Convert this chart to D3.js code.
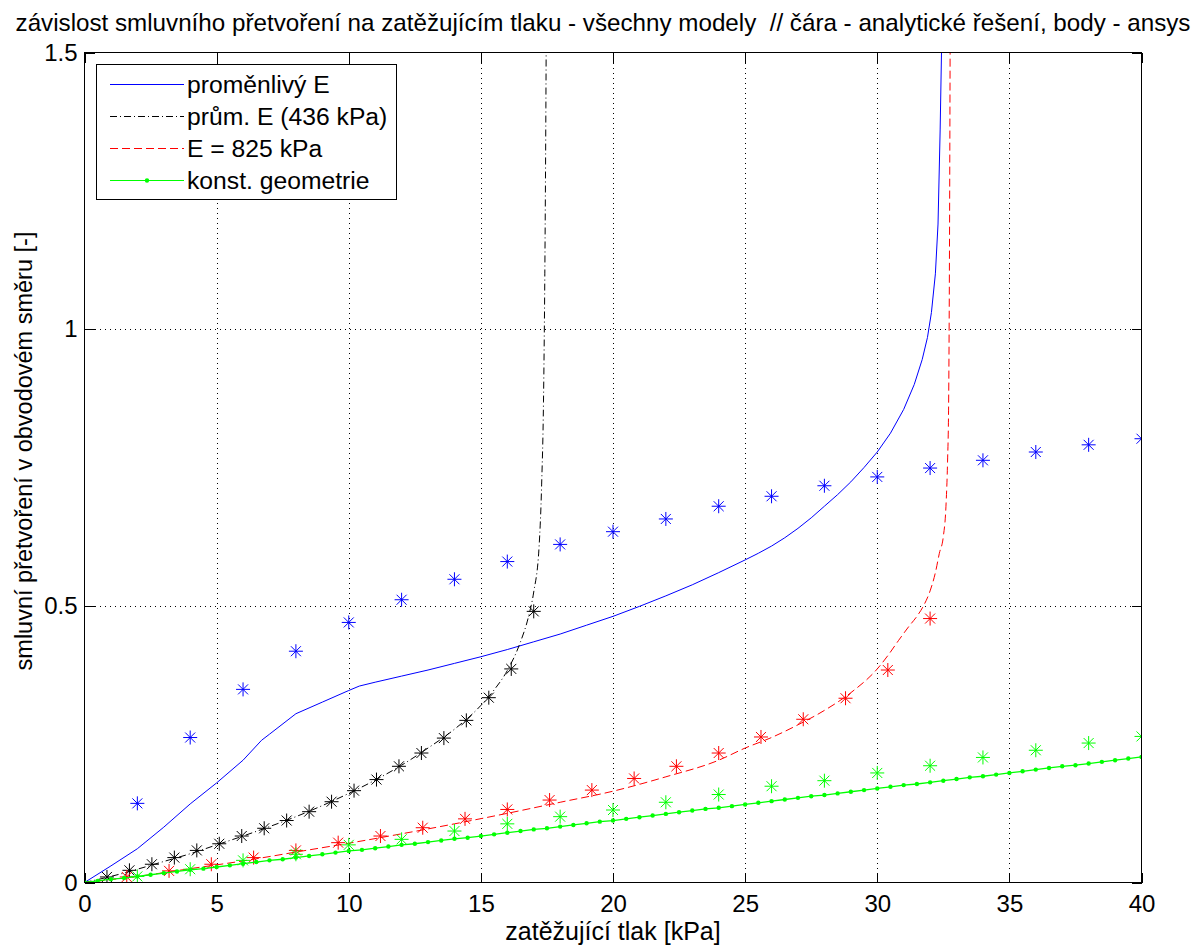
<!DOCTYPE html>
<html>
<head>
<meta charset="utf-8">
<script src="https://cdn.jsdelivr.net/npm/d3@7"></script>
<style>
  html, body { margin: 0; padding: 0; background: #fff; }
  svg { display: block; font-family: "Liberation Sans", Arial, Helvetica, sans-serif; }
  text { white-space: pre; }
</style>
</head>
<body>
<svg id="chart" width="1204" height="946"></svg>
<script>
// ---------------- data ----------------
const titleText = "závislost smluvního přetvoření na zatěžujícím tlaku - všechny modely  // čára - analytické řešení, body - ansys";
const xLabelText = "zatěžující tlak [kPa]";
const yLabelText = "smluvní přetvoření v obvodovém směru [-]";
const xTicks = [0, 5, 10, 15, 20, 25, 30, 35, 40];
const yTicks = [0, 0.5, 1, 1.5];
const legendLabels = ["proměnlivý E", "prům. E (436 kPa)", "E = 825 kPa", "konst. geometrie"];

// analytic lines
const blueLineX = [0, 1, 2, 3, 4, 5, 6, 6.7, 7, 8, 9, 10, 10.4, 11, 12, 13, 14, 15, 16, 17, 18, 19, 20, 21, 22, 23, 24, 25, 25.5, 26, 26.5, 27, 27.5, 28, 28.5, 29, 29.5, 30, 30.5, 31, 31.4, 31.7, 31.9, 32.05, 32.2, 32.3, 32.38, 32.45];
const blueLineY = [0, 0.030, 0.061, 0.100, 0.142, 0.180, 0.221, 0.257, 0.268, 0.305, 0.326, 0.347, 0.355, 0.362, 0.373, 0.384, 0.396, 0.408, 0.421, 0.435, 0.449, 0.465, 0.481, 0.499, 0.518, 0.538, 0.560, 0.583, 0.595, 0.608, 0.623, 0.640, 0.659, 0.680, 0.701, 0.724, 0.750, 0.778, 0.812, 0.855, 0.900, 0.945, 0.985, 1.03, 1.10, 1.19, 1.36, 1.55];

const blackLineX = [0, 1, 2, 3, 4, 5, 6, 7, 8, 9, 10, 11, 12, 13, 14, 15, 15.5, 16, 16.5, 16.8, 17.0, 17.2, 17.3, 17.37, 17.42, 17.46, 17.48];
const blackLineY = [0, 0.011, 0.024, 0.038, 0.052, 0.068, 0.084, 0.101, 0.119, 0.139, 0.161, 0.185, 0.212, 0.243, 0.277, 0.320, 0.348, 0.383, 0.435, 0.480, 0.525, 0.605, 0.72, 0.87, 1.10, 1.40, 1.6];

const redLineX = [0, 2, 4, 6, 8, 10, 12, 14, 16, 18, 20, 22, 24, 25, 26, 27, 28, 29, 30, 30.4, 30.8, 31.2, 31.5, 31.75, 32.0, 32.2, 32.35, 32.5, 32.6, 32.66, 32.7, 32.73, 32.76];
const redLineY = [0, 0.011, 0.025, 0.039, 0.055, 0.071, 0.088, 0.106, 0.125, 0.145, 0.165, 0.191, 0.221, 0.243, 0.262, 0.285, 0.311, 0.343, 0.386, 0.410, 0.437, 0.463, 0.481, 0.500, 0.527, 0.560, 0.595, 0.625, 0.680, 0.760, 0.860, 1.10, 1.55];

const greenLineX = [0, 0.5, 1, 1.5, 2, 2.5, 3, 3.5, 4, 4.5, 5, 5.5, 6, 6.5, 7, 7.5, 8, 8.5, 9, 9.5, 10, 10.5, 11, 11.5, 12, 12.5, 13, 13.5, 14, 14.5, 15, 15.5, 16, 16.5, 17, 17.5, 18, 18.5, 19, 19.5, 20, 20.5, 21, 21.5, 22, 22.5, 23, 23.5, 24, 24.5, 25, 25.5, 26, 26.5, 27, 27.5, 28, 28.5, 29, 29.5, 30, 30.5, 31, 31.5, 32, 32.5, 33, 33.5, 34, 34.5, 35, 35.5, 36, 36.5, 37, 37.5, 38, 38.5, 39, 39.5, 40];
const greenLineY = [0.000, 0.003, 0.006, 0.008, 0.011, 0.014, 0.017, 0.020, 0.023, 0.025, 0.028, 0.031, 0.034, 0.037, 0.040, 0.042, 0.045, 0.048, 0.051, 0.054, 0.057, 0.059, 0.062, 0.065, 0.068, 0.070, 0.073, 0.076, 0.079, 0.081, 0.084, 0.087, 0.090, 0.093, 0.096, 0.098, 0.101, 0.104, 0.107, 0.110, 0.112, 0.115, 0.118, 0.121, 0.124, 0.127, 0.130, 0.133, 0.135, 0.138, 0.141, 0.144, 0.147, 0.150, 0.153, 0.156, 0.158, 0.161, 0.164, 0.167, 0.170, 0.173, 0.176, 0.178, 0.181, 0.184, 0.187, 0.190, 0.192, 0.195, 0.198, 0.201, 0.204, 0.207, 0.210, 0.212, 0.215, 0.218, 0.221, 0.224, 0.227];

// ansys points
const blueStarX = [2, 4, 6, 8, 10, 12, 14, 16, 18, 20, 22, 24, 26, 28, 30, 32, 34, 36, 38, 40];
const blueStarY = [0.143, 0.262, 0.349, 0.418, 0.470, 0.511, 0.548, 0.580, 0.611, 0.634, 0.657, 0.680, 0.698, 0.717, 0.733, 0.749, 0.763, 0.778, 0.791, 0.802];

const blackStarX = [0.85, 1.7, 2.55, 3.4, 4.25, 5.1, 5.95, 6.8, 7.65, 8.5, 9.35, 10.2, 11.05, 11.9, 12.75, 13.6, 14.45, 15.3, 16.15, 17.0];
const blackStarY = [0.010, 0.022, 0.033, 0.045, 0.058, 0.070, 0.084, 0.098, 0.112, 0.128, 0.146, 0.166, 0.186, 0.210, 0.234, 0.261, 0.293, 0.334, 0.386, 0.490];

const redStarX = [1.6, 3.2, 4.8, 6.4, 8.0, 9.6, 11.2, 12.8, 14.4, 16.0, 17.6, 19.2, 20.8, 22.4, 24.0, 25.6, 27.2, 28.8, 30.4, 32.0];
const redStarY = [0.010, 0.021, 0.033, 0.045, 0.058, 0.072, 0.084, 0.099, 0.115, 0.132, 0.149, 0.167, 0.188, 0.210, 0.234, 0.263, 0.295, 0.333, 0.384, 0.477];

const greenStarX = [2, 4, 6, 8, 10, 12, 14, 16, 18, 20, 22, 24, 26, 28, 30, 32, 34, 36, 38, 40];
const greenStarY = [0.011, 0.024, 0.040, 0.051, 0.068, 0.078, 0.093, 0.106, 0.119, 0.131, 0.145, 0.159, 0.174, 0.184, 0.198, 0.211, 0.226, 0.239, 0.252, 0.264];

// ---------------- drawing ----------------
const svg = d3.select("#chart");
const FONT = 24;
const pLeft = 84.5, pRight = 1141.5, pTop = 52.5, pBottom = 882.5;
const x = d3.scaleLinear().domain([0, 40]).range([pLeft, pRight]);
const y = d3.scaleLinear().domain([0, 1.5]).range([pBottom, pTop]);

svg.append("rect").attr("width", 1204).attr("height", 946).attr("fill", "#fff");

svg.append("defs").append("clipPath").attr("id", "clip")
  .append("rect").attr("x", pLeft).attr("y", pTop).attr("width", pRight - pLeft).attr("height", pBottom - pTop);

// grid
const grid = svg.append("g").attr("stroke", "#000").attr("stroke-width", 1)
  .attr("stroke-dasharray", "1,4").attr("shape-rendering", "crispEdges");
grid.selectAll("line.gx").data(xTicks.slice(1, -1)).join("line")
  .attr("class", "gx")
  .attr("x1", d => Math.round(x(d)) + 0.5).attr("x2", d => Math.round(x(d)) + 0.5)
  .attr("y1", pTop).attr("y2", pBottom);
grid.selectAll("line.gy").data(yTicks.slice(1, -1)).join("line")
  .attr("class", "gy")
  .attr("y1", d => Math.round(y(d)) + 0.5).attr("y2", d => Math.round(y(d)) + 0.5)
  .attr("x1", pLeft).attr("x2", pRight);

// axes
const TL = 10;
const axB = svg.append("g").attr("transform", `translate(0,${pBottom})`)
  .call(d3.axisBottom(x).tickValues(xTicks).tickSizeInner(-TL).tickSizeOuter(0).tickPadding(12));
const axT = svg.append("g").attr("transform", `translate(0,${pTop})`)
  .call(d3.axisTop(x).tickValues(xTicks).tickSizeInner(-TL).tickSizeOuter(0).tickFormat(""));
const axL = svg.append("g").attr("transform", `translate(${pLeft},0)`)
  .call(d3.axisLeft(y).tickValues(yTicks).tickSizeInner(-TL).tickSizeOuter(0).tickPadding(7).tickFormat(d3.format("")));
const axR = svg.append("g").attr("transform", `translate(${pRight},0)`)
  .call(d3.axisRight(y).tickValues(yTicks).tickSizeInner(-TL).tickSizeOuter(0).tickFormat(""));
[axB, axT, axL, axR].forEach(a => {
  a.select(".domain").remove();
  a.selectAll("line").attr("stroke", "#000").attr("shape-rendering", "crispEdges");
  a.selectAll("text").attr("font-size", FONT).attr("font-family", null).attr("fill", "#000");
});
axB.selectAll("text").attr("dy", "0.72em");

// series
const clipG = svg.append("g").attr("clip-path", "url(#clip)");
const zip = (xs, ys) => xs.map((v, i) => [v, ys[i]]);
const starPath = "M-7,0H7M0,-7V7M-5,-5L5,5M-5,5L5,-5";

function drawLine(xs, ys, color, dash, width, curve) {
  const gen = d3.line().x(d => x(d[0])).y(d => y(d[1])).curve(curve || d3.curveMonotoneX);
  clipG.append("path").datum(zip(xs, ys))
    .attr("fill", "none").attr("stroke", color).attr("stroke-width", width || 1)
    .attr("stroke-dasharray", dash || null).attr("d", gen);
}
function drawStars(xs, ys, color) {
  clipG.append("g").selectAll("path").data(zip(xs, ys)).join("path")
    .attr("transform", d => `translate(${x(d[0])},${y(d[1])})`)
    .attr("d", starPath).attr("fill", "none").attr("stroke", color).attr("stroke-width", 1);
}

drawLine(blueLineX, blueLineY, "#0000ff", null, 1, d3.curveLinear);
drawStars(blueStarX, blueStarY, "#0000ff");
drawLine(blackLineX, blackLineY, "#000000", "7,3,1,3");
drawStars(blackStarX, blackStarY, "#000000");
drawLine(redLineX, redLineY, "#ff0000", "8,4");
drawStars(redStarX, redStarY, "#ff0000");
drawLine(greenLineX, greenLineY, "#00ff00", null, 1.3, d3.curveLinear);
clipG.append("g").selectAll("circle").data(zip(greenLineX, greenLineY)).join("circle")
  .attr("cx", d => x(d[0])).attr("cy", d => y(d[1])).attr("r", 2.2).attr("fill", "#00ff00");
drawStars(greenStarX, greenStarY, "#00ff00");

// box
svg.append("rect").attr("x", pLeft).attr("y", pTop).attr("width", pRight - pLeft).attr("height", pBottom - pTop)
  .attr("fill", "none").attr("stroke", "#000").attr("stroke-width", 1).attr("shape-rendering", "crispEdges");

// legend
const leg = svg.append("g");
leg.append("rect").attr("x", 96.5).attr("y", 64.5).attr("width", 300).attr("height", 135)
  .attr("fill", "#fff").attr("stroke", "#000").attr("stroke-width", 1).attr("shape-rendering", "crispEdges");
const legStyles = [
  { color: "#0000ff", dash: null, dot: false },
  { color: "#000000", dash: "7,3,1,3", dot: false },
  { color: "#ff0000", dash: "8,4", dot: false },
  { color: "#00ff00", dash: null, dot: true }
];
legendLabels.forEach((lab, i) => {
  const cy = 84 + i * 32;
  const s = legStyles[i];
  leg.append("line").attr("x1", 110).attr("x2", 184).attr("y1", cy + 0.5).attr("y2", cy + 0.5)
    .attr("stroke", s.color).attr("stroke-width", 1).attr("stroke-dasharray", s.dash);
  if (s.dot) leg.append("circle").attr("cx", 147).attr("cy", cy + 0.5).attr("r", 2.2).attr("fill", s.color);
  leg.append("text").attr("x", 187).attr("y", cy).attr("dy", "0.35em")
    .attr("font-size", 24.7).attr("fill", "#000").text(lab);
});

// titles
svg.append("text").attr("x", 603).attr("y", 31).attr("text-anchor", "middle")
  .attr("font-size", 24.2).attr("fill", "#000").text(titleText);
svg.append("text").attr("x", 613).attr("y", 940).attr("text-anchor", "middle")
  .attr("font-size", 25).attr("fill", "#000").text(xLabelText);
svg.append("text").attr("transform", "translate(32,451) rotate(-90)").attr("text-anchor", "middle")
  .attr("font-size", 23.5).attr("fill", "#000").text(yLabelText);
</script>
</body>
</html>
